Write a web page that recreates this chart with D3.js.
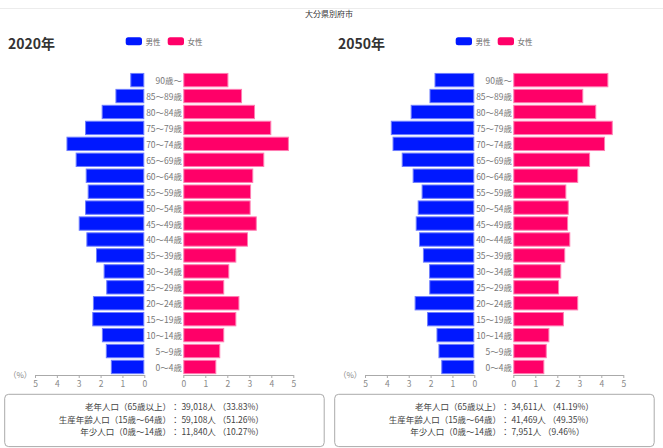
<!DOCTYPE html>
<html>
<head>
<meta charset="utf-8">
<script src="https://cdn.jsdelivr.net/npm/d3@7"></script>
<style>
  body { margin: 0; background: #fff; }
  svg { display: block; font-family: "Noto Sans CJK JP", "Noto Sans", sans-serif; }
</style>
</head>
<body>
<svg id="chart" width="663" height="448"></svg>
<script>
// ---- data ----
const cityName = "大分県別府市";
const years = ["2020年", "2050年"];
const ageGroups = ["90歳〜", "85〜89歳", "80〜84歳", "75〜79歳", "70〜74歳", "65〜69歳",
  "60〜64歳", "55〜59歳", "50〜54歳", "45〜49歳", "40〜44歳", "35〜39歳", "30〜34歳",
  "25〜29歳", "20〜24歳", "15〜19歳", "10〜14歳", "5〜9歳", "0〜4歳"];
const sexLabels = ["男性", "女性"];

// share of total population (%) by age group, oldest first
const male2020 = [0.64, 1.32, 1.95, 2.71, 3.56, 3.14, 2.68, 2.59, 2.71, 3.00, 2.65, 2.21, 1.86, 1.74, 2.35, 2.38, 1.94, 1.76, 1.53];
const female2020 = [2.05, 2.67, 3.26, 4.00, 4.80, 3.68, 3.18, 3.08, 3.06, 3.34, 2.94, 2.41, 2.09, 1.86, 2.55, 2.41, 1.86, 1.68, 1.50];
const male2050 = [1.82, 2.05, 2.91, 3.82, 3.74, 3.32, 2.82, 2.41, 2.59, 2.68, 2.53, 2.35, 2.07, 2.06, 2.73, 2.16, 1.73, 1.64, 1.51];
const female2050 = [4.32, 3.18, 3.77, 4.52, 4.17, 3.49, 2.95, 2.41, 2.52, 2.49, 2.59, 2.36, 2.18, 2.08, 2.95, 2.30, 1.64, 1.52, 1.41];

const axisTicks = [0, 1, 2, 3, 4, 5];
const axisUnit = "（%）";

const summaryLabels = ["老年人口（65歳以上）", "生産年齢人口（15歳〜64歳）", "年少人口（0歳〜14歳）"];
const summaryCount2020 = [39018, 59108, 11840];
const summaryPct2020 = [33.83, 51.26, 10.27];
const summaryCount2050 = [34611, 41469, 7951];
const summaryPct2050 = [41.19, 49.35, 9.46];

// ---- styling ----
const MALE = "#0018ff", MALE_EDGE = "#6d7dff";
const FEMALE = "#ff0068", FEMALE_EDGE = "#ff7cb1";
const TEXT = "#333", MUTED = "#888";

const svg = d3.select("#chart");

// header rule and city title
svg.append("line").attr("x1", 0).attr("x2", 663).attr("y1", 8.5).attr("y2", 8.5)
  .attr("stroke", "#ececec");
svg.append("text").attr("x", 329).attr("y", 13.5)
  .attr("text-anchor", "middle").attr("dominant-baseline", "central")
  .attr("font-size", 8).attr("fill", TEXT).text(cityName);

const panels = [
  { year: years[0], male: male2020, female: female2020, count: summaryCount2020, pct: summaryPct2020 },
  { year: years[1], male: male2050, female: female2050, count: summaryCount2050, pct: summaryPct2050 }
];

const y = d3.scaleBand().domain(ageGroups).range([72.3, 374.8]).paddingInner(0.1).paddingOuter(0.04);
const xMale = d3.scaleLinear().domain([5, 0]).range([35, 144.3]);
const xFemale = d3.scaleLinear().domain([0, 5]).range([183.3, 293.3]);
const fmtCount = d3.format(",");
const fmtPct = d3.format(".2f");

panels.forEach((p, i) => {
  const g = svg.append("g").attr("transform", `translate(${i * 330},0)`);

  // year heading
  g.append("text").attr("x", 8).attr("y", 42.5).attr("dominant-baseline", "central")
    .attr("font-size", 14).attr("font-weight", "bold").attr("fill", TEXT).text(p.year);

  // legend
  const legend = [
    { label: sexLabels[0], color: MALE, x: 125.7 },
    { label: sexLabels[1], color: FEMALE, x: 167.7 }
  ];
  const lg = g.selectAll("g.legend").data(legend).join("g").attr("class", "legend");
  lg.append("rect").attr("x", d => d.x).attr("y", 37.3).attr("width", 16.3).attr("height", 8)
    .attr("rx", 2.5).attr("fill", d => d.color);
  lg.append("text").attr("x", d => d.x + 19.8).attr("y", 41.5).attr("dominant-baseline", "central")
    .attr("font-size", 7.5).attr("fill", "#666").text(d => d.label);

  // bars
  g.selectAll("rect.male").data(p.male).join("rect").attr("class", "male")
    .attr("x", d => xMale(d) + 0.5).attr("y", (d, k) => y(ageGroups[k]) + 0.5)
    .attr("width", d => xMale(0) - xMale(d) - 1).attr("height", y.bandwidth() - 1)
    .attr("fill", MALE).attr("stroke", MALE_EDGE).attr("stroke-width", 1);
  g.selectAll("rect.female").data(p.female).join("rect").attr("class", "female")
    .attr("x", xFemale(0) + 0.5).attr("y", (d, k) => y(ageGroups[k]) + 0.5)
    .attr("width", d => xFemale(d) - xFemale(0) - 1).attr("height", y.bandwidth() - 1)
    .attr("fill", FEMALE).attr("stroke", FEMALE_EDGE).attr("stroke-width", 1);

  // age labels between the halves
  g.selectAll("text.age").data(ageGroups).join("text").attr("class", "age")
    .attr("x", 182).attr("y", d => y(d) + y.bandwidth() / 2)
    .attr("text-anchor", "end").attr("dominant-baseline", "central")
    .attr("font-size", 8.5).attr("fill", "#777").text(d => d);

  // axes
  const styleAxis = sel => {
    sel.select(".domain").attr("stroke", "#aaa");
    sel.selectAll(".tick line").attr("stroke", "#aaa");
    sel.selectAll(".tick text").attr("fill", MUTED).attr("font-size", 8.5)
      .attr("font-family", "'Noto Sans CJK JP', 'Noto Sans', sans-serif");
  };
  g.append("g").attr("transform", "translate(0,375)")
    .call(d3.axisBottom(xMale).tickValues(axisTicks).tickFormat(d3.format("d"))
      .tickSize(3).tickSizeOuter(0).tickPadding(3))
    .call(styleAxis);
  g.append("g").attr("transform", "translate(0,375)")
    .call(d3.axisBottom(xFemale).tickValues(axisTicks).tickFormat(d3.format("d"))
      .tickSize(3).tickSizeOuter(0).tickPadding(3))
    .call(styleAxis);
  g.append("text").attr("x", 8.5).attr("y", 374).attr("dominant-baseline", "central")
    .attr("font-size", 8).attr("fill", MUTED).text(axisUnit);

  // summary box
  g.append("rect").attr("x", 4.7).attr("y", 394.3).attr("width", 319.5).attr("height", 52.3)
    .attr("rx", 4).attr("fill", "none").attr("stroke", "#aaa").attr("stroke-width", 1);
  const rowY = [405.8, 418.5, 431];
  summaryLabels.forEach((lab, k) => {
    g.append("text").attr("x", 171).attr("y", rowY[k]).attr("text-anchor", "end")
      .attr("dominant-baseline", "central").attr("font-size", 8.5).attr("fill", "#444").text(lab);
    g.append("text").attr("x", 171).attr("y", rowY[k])
      .attr("dominant-baseline", "central").attr("font-size", 8.5).attr("fill", "#444")
      .text(`： ${fmtCount(p.count[k])}人 （${fmtPct(p.pct[k])}%）`);
  });
});
</script>
</body>
</html>
